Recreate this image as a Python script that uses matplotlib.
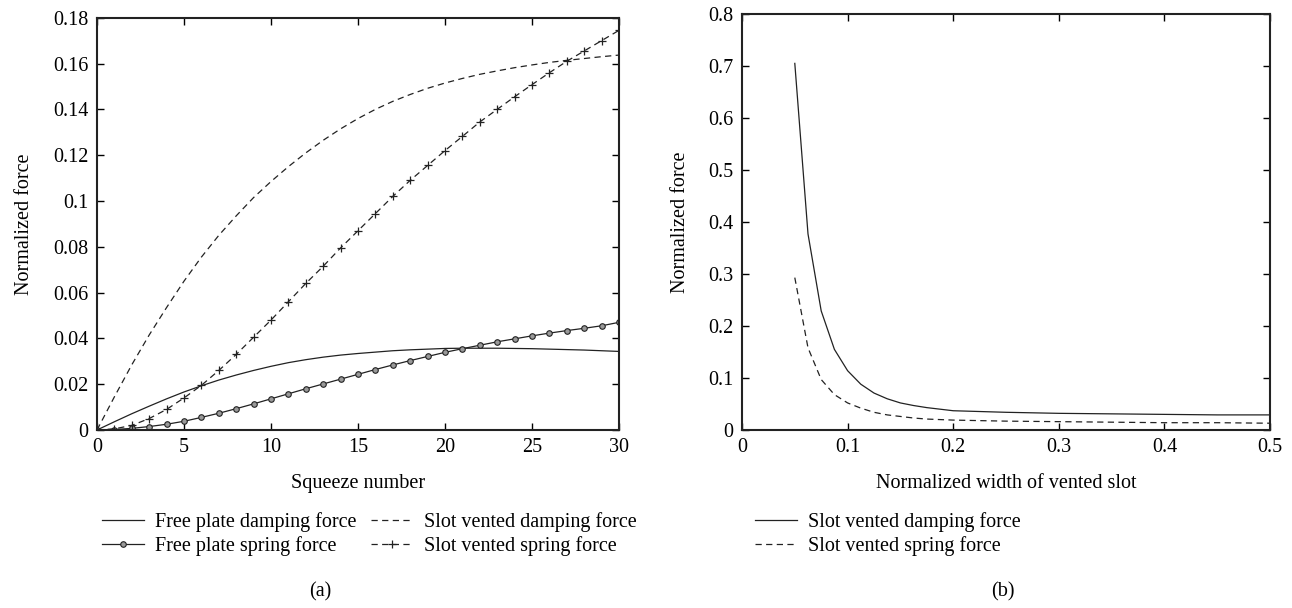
import matplotlib.pyplot as plt

plt.rcParams['font.family'] = ['Liberation Serif', 'DejaVu Serif']
plt.rcParams['font.size'] = 14.5

# panel (a): squeeze number vs normalized force
squeeze = list(range(31))
free_damping = [0.0, 0.0036, 0.0071, 0.0104, 0.0136, 0.0166, 0.0193, 0.0218, 0.0240, 0.0260,
                0.0278, 0.0294, 0.0307, 0.0318, 0.0327, 0.0334, 0.0340, 0.0346, 0.0350, 0.0353,
                0.0356, 0.0357, 0.0357, 0.0357, 0.0356, 0.0355, 0.0353, 0.0351, 0.0349, 0.0346,
                0.0343]
free_spring = [0.0, 0.0002, 0.0007, 0.0015, 0.0025, 0.0038, 0.0055, 0.0073, 0.0093, 0.0114,
               0.0136, 0.0158, 0.0180, 0.0201, 0.0222, 0.0243, 0.0264, 0.0284, 0.0303, 0.0321,
               0.0339, 0.0355, 0.0370, 0.0385, 0.0398, 0.0411, 0.0423, 0.0434, 0.0444, 0.0455,
               0.0470]
slot_damping = [0.0, 0.0145, 0.0285, 0.0415, 0.0535, 0.0650, 0.0755, 0.0850, 0.0935, 0.1015,
                0.1085, 0.1150, 0.1210, 0.1265, 0.1315, 0.1360, 0.1400, 0.1435, 0.1465, 0.1492,
                0.1515, 0.1535, 0.1553, 0.1568, 0.1582, 0.1594, 0.1605, 0.1614, 0.1622, 0.1630,
                0.1637]
slot_spring = [0.0, 0.0005, 0.0020, 0.0050, 0.0090, 0.0140, 0.0195, 0.0260, 0.0330, 0.0405,
               0.0480, 0.0560, 0.0640, 0.0715, 0.0795, 0.0870, 0.0945, 0.1020, 0.1090, 0.1155,
               0.1220, 0.1282, 0.1345, 0.1400, 0.1455, 0.1508, 0.1560, 0.1610, 0.1655, 0.1700,
               0.1745]

# panel (b): normalized slot width vs normalized force
width = [0.05, 0.0625, 0.075, 0.0875, 0.1, 0.1125, 0.125, 0.1375, 0.15, 0.1625, 0.175,
         0.1875, 0.2, 0.25, 0.3, 0.35, 0.4, 0.45, 0.5]
vent_damping = [0.705, 0.377, 0.229, 0.155, 0.114, 0.088, 0.071, 0.060, 0.052, 0.047, 0.043,
                0.040, 0.037, 0.034, 0.032, 0.031, 0.030, 0.029, 0.029]
vent_spring = [0.293, 0.158, 0.097, 0.068, 0.052, 0.042, 0.034, 0.029, 0.026, 0.023, 0.021,
               0.020, 0.019, 0.017, 0.016, 0.015, 0.014, 0.014, 0.013]

fig = plt.figure(figsize=(12.92, 6.08), dpi=100)
ax1 = fig.add_axes([0.0751, 0.2928, 0.404, 0.678])
ax2 = fig.add_axes([0.5743, 0.2928, 0.4087, 0.6842])

dash = (0, (5, 3.5))
ax1.plot(squeeze, free_damping, color='#222222', lw=0.9, label='Free plate damping force')
ax1.plot(squeeze, free_spring, color='#222222', lw=0.9, marker='o', ms=4,
         mfc='#999999', mec='#222222', mew=0.8, label='Free plate spring force')
ax1.plot(squeeze, slot_damping, color='#222222', lw=0.9, ls=dash, label='Slot vented damping force')
ax1.plot(squeeze, slot_spring, color='#222222', lw=0.9, ls=dash, marker='+', ms=6,
         mew=0.9, label='Slot vented spring force')
ax1.set_xlim(0, 30)
ax1.set_ylim(0, 0.18)
ax1.set_xticks([0, 5, 10, 15, 20, 25, 30])
ax1.set_yticks([0, 0.02, 0.04, 0.06, 0.08, 0.1, 0.12, 0.14, 0.16, 0.18])
ax1.set_yticklabels(['0', '0.02', '0.04', '0.06', '0.08', '0.1', '0.12', '0.14', '0.16', '0.18'])
ax1.set_xlabel('Squeeze number', labelpad=12)
ax1.set_ylabel('Normalized force', labelpad=14)
ax1.legend(ncol=2, frameon=False, loc='upper left', bbox_to_anchor=(-0.025, -0.155),
           handlelength=2.1, columnspacing=0.7, labelspacing=0.2, handletextpad=0.55)

ax2.plot(width, vent_damping, color='#222222', lw=0.9, label='Slot vented damping force')
ax2.plot(width, vent_spring, color='#222222', lw=0.9, ls=dash, label='Slot vented spring force')
ax2.set_xlim(0, 0.5)
ax2.set_ylim(0, 0.8)
ax2.set_xticks([0, 0.1, 0.2, 0.3, 0.4, 0.5])
ax2.set_xticklabels(['0', '0.1', '0.2', '0.3', '0.4', '0.5'])
ax2.set_yticks([0, 0.1, 0.2, 0.3, 0.4, 0.5, 0.6, 0.7, 0.8])
ax2.set_yticklabels(['0', '0.1', '0.2', '0.3', '0.4', '0.5', '0.6', '0.7', '0.8'])
ax2.set_xlabel('Normalized width of vented slot', labelpad=12)
ax2.set_ylabel('Normalized force', labelpad=13)
ax2.legend(frameon=False, loc='upper left', bbox_to_anchor=(-0.01, -0.155),
           handlelength=2.1, labelspacing=0.2, handletextpad=0.55)

for ax in (ax1, ax2):
    ax.tick_params(direction='in', top=True, right=True, length=5, width=1, pad=6)
    for s in ax.spines.values():
        s.set_linewidth(1.5)
        s.set_color('#222222')

fig.text(0.248, 0.026, '(a)', ha='center', va='center')
fig.text(0.776, 0.026, '(b)', ha='center', va='center')

plt.savefig('out.png', dpi=100)
